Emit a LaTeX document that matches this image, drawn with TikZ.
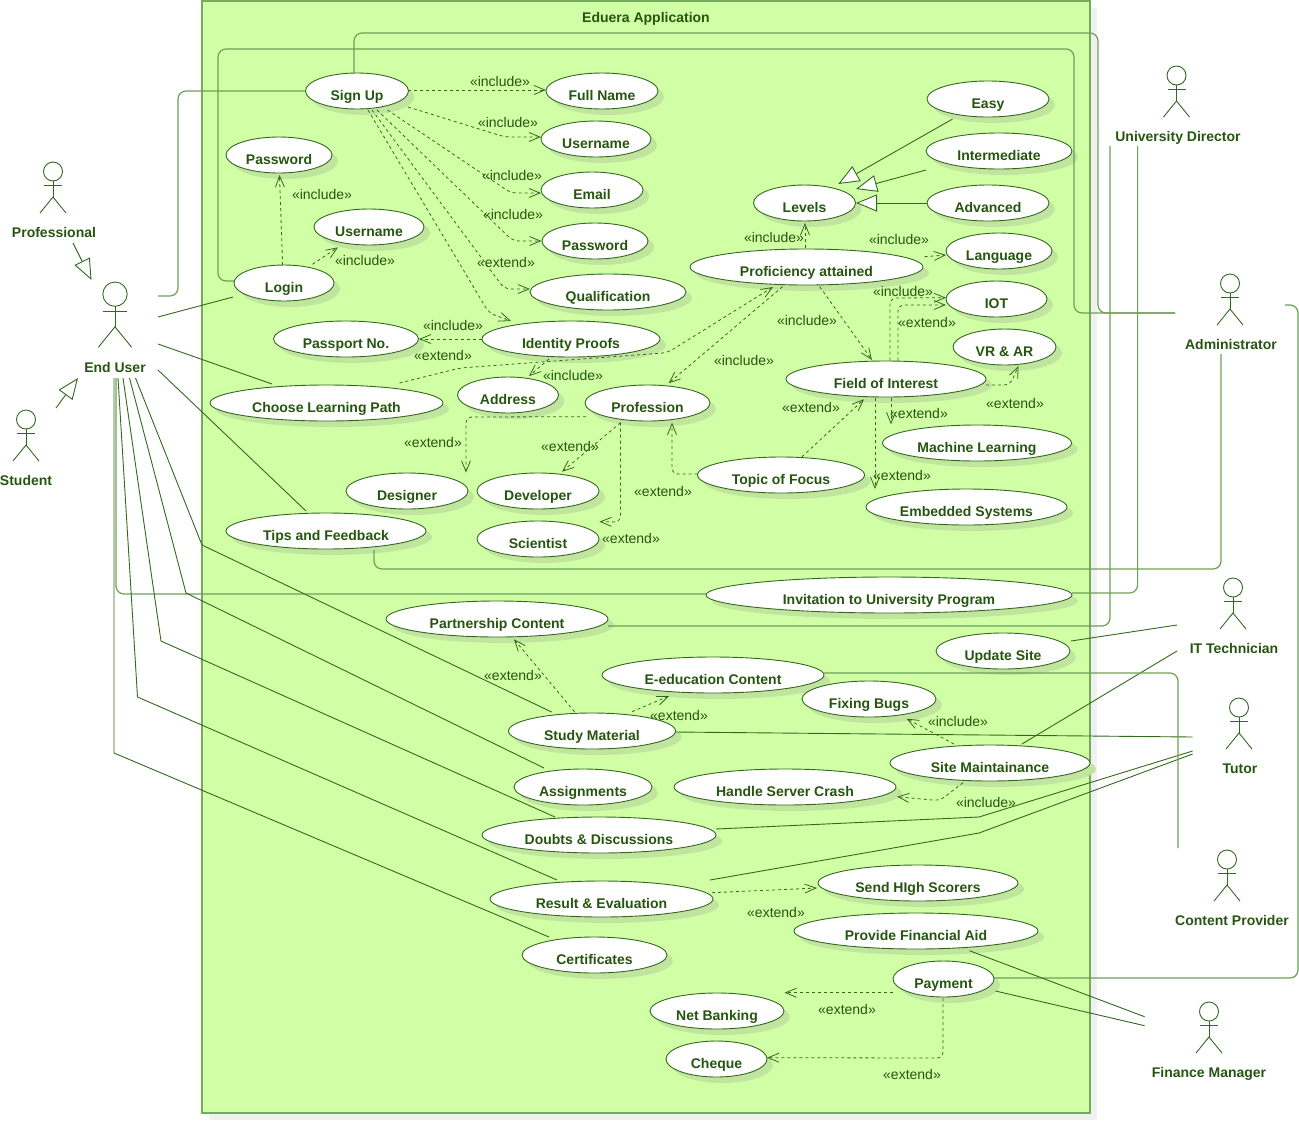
\documentclass[tikz,border=0pt]{standalone}
\usepackage{fontspec}
\setmainfont{Liberation Sans}
\usetikzlibrary{calc,arrows.meta,shadows,shapes.geometric}
\definecolor{boxfill}{HTML}{D1FFA5}
\definecolor{boxline}{HTML}{76AB5C}
\definecolor{ink}{HTML}{33691E}
\definecolor{softink}{HTML}{6E9F56}
\definecolor{txt}{HTML}{25560F}
\definecolor{caseshadow}{HTML}{C1E59E}
\definecolor{boxshadow}{HTML}{F1F1F1}
\tikzset{
  usecase/.style={ellipse,draw=ink,fill=white,line width=0.9pt,minimum height=36pt,inner sep=0pt,
    text=txt,font=\fontsize{14}{16}\selectfont\bfseries,text height=18pt,text depth=0pt,
    general shadow={fill=caseshadow,shadow xshift=6pt,shadow yshift=-6pt}},
  actorname/.style={inner sep=0pt,text=txt,font=\fontsize{14}{16}\selectfont\bfseries,text height=10pt,text depth=0pt},
  stereo/.style={inner sep=0pt,text=txt,font=\fontsize{14}{16}\selectfont,text height=10pt,text depth=0pt},
  assoc/.style={draw=ink,line width=0.9pt},
  route/.style={draw=softink,line width=1.2pt,rounded corners=8pt},
  dep/.style={draw=ink,line width=0.8pt,dash pattern=on 3pt off 3pt,rounded corners=6pt,-{Straight Barb[length=11pt,width=9pt]}},
  gen/.style={draw=ink,line width=0.9pt,-{Triangle[length=21pt,width=17pt,fill=white]}},
  actor/.pic={
    \draw[ink,line width=0.9pt] (0,9.5) circle (9.5);
    \draw[ink,line width=0.9pt] (0,19) -- (0,35);
    \draw[ink,line width=0.9pt] (-9,23) -- (9,23);
    \draw[ink,line width=0.9pt] (-13,51) -- (0,35) -- (13,51);
  }
}
\begin{document}
\begin{tikzpicture}[x=1pt,y=-1pt]
\useasboundingbox (0,0) rectangle (1299,1120);
\fill[boxshadow] (209,8) rectangle (1097,1120);
\node(boundary)[rectangle,draw=boxline,fill=boxfill,line width=1.3pt,minimum width=888pt,minimum height=1112pt] at (646,557){};
\node(title)[actorname] at (646,17){Eduera Application};
\pic at (53,162){actor};
\pic[scale=1.28] at (115,282){actor};
\pic at (26,410){actor};
\pic at (1176.5,66){actor};
\pic at (1230,274){actor};
\pic at (1233,578){actor};
\pic at (1239,698){actor};
\pic at (1227,850){actor};
\pic at (1209,1002){actor};
\node(professional)[actorname] at (54,232){Professional};
\node(enduser)[actorname] at (115,367){End User};
\node(student)[actorname] at (26,480){Student};
\node(director)[actorname] at (1178,136){University Director};
\node(administrator)[actorname] at (1231,344){Administrator};
\node(ittech)[actorname] at (1234,648){IT Technician};
\node(tutor)[actorname] at (1240,768){Tutor};
\node(provider)[actorname] at (1232,920){Content Provider};
\node(finance)[actorname] at (1209,1072){Finance Manager};
\node(signup)[usecase,minimum width=103pt] at (357,91){Sign Up};
\node(fullname)[usecase,minimum width=112pt] at (602,91){Full Name};
\node(usernames)[usecase,minimum width=110pt] at (596,139){Username};
\node(email)[usecase,minimum width=102pt] at (592,190){Email};
\node(passwords)[usecase,minimum width=106pt] at (595,241){Password};
\node(qualification)[usecase,minimum width=156pt] at (608,292){Qualification};
\node(identity)[usecase,minimum width=178pt] at (571,339){Identity Proofs};
\node(passport)[usecase,minimum width=145pt] at (346,339){Passport No.};
\node(passwordl)[usecase,minimum width=106pt] at (279,155){Password};
\node(usernamel)[usecase,minimum width=110pt] at (369,227){Username};
\node(login)[usecase,minimum width=100pt] at (284,283){Login};
\node(levels)[usecase,minimum width=102pt] at (804.5,203){Levels};
\node(easy)[usecase,minimum width=122pt] at (988,99){Easy};
\node(intermediate)[usecase,minimum width=146pt] at (999,151){Intermediate};
\node(advanced)[usecase,minimum width=122pt] at (988,203){Advanced};
\node(language)[usecase,minimum width=106pt] at (999,251){Language};
\node(proficiency)[usecase,minimum width=233pt] at (806.5,267){Proficiency attained};
\node(iot)[usecase,minimum width=101pt] at (996.5,299){IOT};
\node(vrar)[usecase,minimum width=103pt] at (1004.5,347){VR \& AR};
\node(field)[usecase,minimum width=200pt] at (886,379){Field of Interest};
\node(address)[usecase,minimum width=101pt] at (508,395){Address};
\node(choose)[usecase,minimum width=233pt] at (326.5,403){Choose Learning Path};
\node(profession)[usecase,minimum width=125pt] at (647.5,403){Profession};
\node(designer)[usecase,minimum width=122pt] at (407,491){Designer};
\node(developer)[usecase,minimum width=122pt] at (538,491){Developer};
\node(scientist)[usecase,minimum width=122pt] at (538,539){Scientist};
\node(tips)[usecase,minimum width=200pt] at (326,531){Tips and Feedback};
\node(topic)[usecase,minimum width=167pt] at (781,475){Topic of Focus};
\node(machine)[usecase,minimum width=189pt] at (977,443){Machine Learning};
\node(embedded)[usecase,minimum width=201pt] at (966.5,507){Embedded Systems};
\node(invitation)[usecase,minimum width=366pt] at (889,595){Invitation to University Program};
\node(partnership)[usecase,minimum width=222pt] at (497,619){Partnership Content};
\node(update)[usecase,minimum width=134pt] at (1003,651){Update Site};
\node(eeducation)[usecase,minimum width=222pt] at (713,675){E-education Content};
\node(fixing)[usecase,minimum width=134pt] at (869,699){Fixing Bugs};
\node(study)[usecase,minimum width=167pt] at (592,731){Study Material};
\node(site)[usecase,minimum width=200pt] at (990,763){Site Maintainance};
\node(handle)[usecase,minimum width=222pt] at (785,787){Handle Server Crash};
\node(assignments)[usecase,minimum width=138pt] at (583,787){Assignments};
\node(doubts)[usecase,minimum width=234pt] at (599,835){Doubts \& Discussions};
\node(send)[usecase,minimum width=200pt] at (918,883){Send HIgh Scorers};
\node(result)[usecase,minimum width=223pt] at (601.5,899){Result \& Evaluation};
\node(aid)[usecase,minimum width=244pt] at (916,931){Provide Financial Aid};
\node(certificates)[usecase,minimum width=145pt] at (594.5,955){Certificates};
\node(payment)[usecase,minimum width=101pt] at (943.5,979){Payment};
\node(netbanking)[usecase,minimum width=134pt] at (717,1011){Net Banking};
\node(cheque)[usecase,minimum width=101pt] at (716.5,1059){Cheque};
\node(incfull)[stereo] at (500,81){«include»};
\node(incuser)[stereo] at (508,122){«include»};
\node(incemail)[stereo] at (512,175){«include»};
\node(incpass)[stereo] at (513,214){«include»};
\node(extqual)[stereo] at (506,262){«extend»};
\node(inclogpw)[stereo] at (322,194){«include»};
\node(inclogus)[stereo] at (365,260){«include»};
\node(incpassport)[stereo] at (453,325){«include»};
\node(extpassport)[stereo] at (443,355){«extend»};
\node(incaddress)[stereo] at (573,375){«include»};
\node(inclevels)[stereo] at (774,237){«include»};
\node(inclang)[stereo] at (899,239){«include»};
\node(inciot)[stereo] at (903,291){«include»};
\node(extiot)[stereo] at (927,322){«extend»};
\node(incfield)[stereo] at (807,320){«include»};
\node(incprof)[stereo] at (744,360){«include»};
\node(exttopic)[stereo] at (811,407){«extend»};
\node(extml)[stereo] at (919,413){«extend»};
\node(extvr)[stereo] at (1015,403){«extend»};
\node(extemb)[stereo] at (902,475){«extend»};
\node(extdes)[stereo] at (433,442){«extend»};
\node(extdev)[stereo] at (570,446){«extend»};
\node(extfocus)[stereo] at (663,491){«extend»};
\node(extsci)[stereo] at (631,538){«extend»};
\node(extpart)[stereo] at (513,675){«extend»};
\node(exteed)[stereo] at (679,715){«extend»};
\node(incfix)[stereo] at (958,721){«include»};
\node(inchandle)[stereo] at (986,802){«include»};
\node(extsend)[stereo] at (776,912){«extend»};
\node(extnet)[stereo] at (847,1009){«extend»};
\node(extcheque)[stereo] at (912,1074){«extend»};
\path[gen] ($(professional)+(19,11)$) -- ($(enduser)+(-23.5,-87)$);
\path[gen] ($(student)+(30,-72)$) -- ($(enduser)+(-37,11)$);
\path[gen] ($(easy)+(-35.4,20)$) -- ($(levels)+(33.8,-19)$);
\path[gen] ($(intermediate)+(-73,19)$) -- ($(levels)+(51.5,-14)$);
\path[gen] ($(advanced)+(-61.5,0)$) -- ($(levels)+(51.5,0)$);
\path[route] ($(enduser)+(43,-71)$) -- (178,296) -- (178,91) -- (signup.west);
\path[assoc] ($(enduser)+(43,-50)$) -- ($(login)+(-51,14)$);
\path[assoc] ($(enduser)+(43,-23)$) -- ($(choose)+(-54.5,-19)$);
\path[assoc] ($(enduser)+(43,3)$) -- ($(tips)+(-20,-20)$);
\path[assoc] ($(enduser)+(-1,11)$) -- (114,753) -- ($(certificates)+(-45.5,-18)$);
\path[route] ($(enduser)+(1,11)$) -- (116,594) -- ($(invitation)+(-183,-1)$);
\path[assoc] ($(enduser)+(3,11)$) -- (137.5,697) -- ($(result)+(-44.5,-19)$);
\path[assoc] ($(enduser)+(8,11)$) -- (161,641) -- ($(doubts)+(-44,-18)$);
\path[assoc] ($(enduser)+(14.5,11)$) -- (186,593) -- ($(assignments)+(-39,-19)$);
\path[assoc] ($(enduser)+(20.5,11)$) -- (202,545) -- ($(study)+(-40.4,-19)$);
\path[route] ($(login)+(-50,-2)$) -- (218,281) -- (218,49) -- (1074,49) -- (1074,313) -- ($(administrator)+(-56,-31)$);
\path[route] ($(signup)+(-3,-18)$) -- (354,33) -- (1098,33) -- (1098,313) -- ($(administrator)+(-56,-31)$);
\path[route] ($(tips)+(48,19)$) -- (374,569) -- (1221,569) -- ($(administrator)+(-10,10)$);
\path[route] ($(administrator)+(54,-39)$) -- (1298,305) -- (1298,978) -- ($(payment)+(50.5,-1)$);
\path[route] ($(director)+(-40.4,10)$) -- (1137.6,593) -- ($(invitation)+(183,-2)$);
\path[route] ($(director)+(-68,10)$) -- (1110,626) -- ($(partnership)+(111,7)$);
\path[assoc] ($(update)+(68,-10)$) -- ($(ittech)+(-57,-23)$);
\path[assoc] ($(ittech)+(-57,3)$) -- ($(site)+(32,-19)$);
\path[assoc] ($(study)+(83,1)$) -- ($(tutor)+(-47.4,-31)$);
\path[assoc] ($(doubts)+(117,-6)$) -- (979,817) -- ($(tutor)+(-47.4,-17)$);
\path[assoc] ($(result)+(108.5,-19)$) -- (979,833) -- ($(tutor)+(-47.4,-14)$);
\path[route] ($(eeducation)+(111,-2)$) -- (1178,673) -- ($(provider)+(-54,-72)$);
\path[assoc] ($(aid)+(53.5,19.7)$) -- ($(finance)+(-64.4,-55.3)$);
\path[assoc] ($(payment)+(52,12)$) -- ($(finance)+(-64.4,-46.3)$);
\path[dep] ($(signup)+(51,-1)$) -- ($(fullname)+(-56,-1)$);
\path[dep] ($(signup)+(51,16)$) -- (505,137) -- ($(usernames)+(-55,-2)$);
\path[dep] ($(signup)+(30.5,19)$) -- (511,193) -- ($(email)+(-51,3)$);
\path[dep] ($(signup)+(20,19)$) -- (513,241) -- ($(passwords)+(-53.5,0)$);
\path[dep] ($(signup)+(15,19)$) -- (504.5,289) -- ($(qualification)+(-78,-3)$);
\path[dep] ($(signup)+(11,19)$) -- (489,313) -- ($(identity)+(-60,-18)$);
\path[dep] ($(login)+(-1.4,-18)$) -- ($(passwordl)+(0.5,20)$);
\path[dep] ($(login)+(28.5,-18.7)$) -- ($(usernamel)+(-31,20.3)$);
\path[dep] ($(proficiency)+(-1.5,-18.7)$) -- ($(levels)+(0.5,20)$);
\path[dep] ($(proficiency)+(118,-10.3)$) -- ($(language)+(-53,4)$);
\path[dep] ($(proficiency)+(13.2,19.7)$) -- ($(field)+(-14,-19)$);
\path[dep] ($(proficiency)+(-24,19.7)$) -- ($(profession)+(21,-19.7)$);
\path[dep] ($(choose)+(73,-20)$) -- (460,368) -- (667.4,352.7) -- ($(proficiency)+(-33.5,20)$);
\path[dep] ($(identity)+(-22,20)$) -- ($(address)+(21,-19)$);
\path[dep] ($(identity)+(-89,0)$) -- ($(passport)+(73,0)$);
\path[dep] ($(field)+(4,-18.3)$) -- (890,298) -- ($(iot)+(-50.5,-1.3)$);
\path[dep] ($(field)+(12,-18.3)$) -- (898,305) -- ($(iot)+(-50.5,6)$);
\path[dep] ($(field)+(100,6)$) -- (1010,385) -- ($(vrar)+(14,19)$);
\path[dep] ($(field)+(5,19.3)$) -- ($(machine)+(-86,-18.7)$);
\path[dep] ($(field)+(-11,19.3)$) -- ($(embedded)+(-91.5,-18)$);
\path[dep] ($(profession)+(-61.5,13.7)$) -- (466,417) -- ($(designer)+(59,-18.3)$);
\path[dep] ($(profession)+(-27,19.7)$) -- ($(developer)+(24,-19.3)$);
\path[dep] ($(profession)+(-27,19.7)$) -- (620.5,522) -- ($(scientist)+(61.4,-17.3)$);
\path[dep] ($(topic)+(-83.4,-1)$) -- (672,474) -- ($(profession)+(24.5,19.7)$);
\path[dep] ($(topic)+(21,-18.3)$) -- ($(field)+(-22,20.3)$);
\path[dep] ($(study)+(-17.5,-19.3)$) -- ($(partnership)+(17,20.3)$);
\path[dep] ($(study)+(40,-19.3)$) -- ($(eeducation)+(-44,21)$);
\path[dep] ($(site)+(-36,-19)$) -- ($(fixing)+(37.6,19.7)$);
\path[dep] ($(site)+(-27,19.7)$) -- (939.7,800.7) -- ($(handle)+(112,9.7)$);
\path[dep] ($(result)+(110.5,-6.3)$) -- ($(send)+(-101.2,5)$);
\path[dep] ($(payment)+(-50.5,13.7)$) -- ($(netbanking)+(67.5,-18.3)$);
\path[dep] ($(payment)+(-0.5,19)$) -- (943,1058) -- ($(cheque)+(50.5,-1.3)$);
\end{tikzpicture}
\end{document}
